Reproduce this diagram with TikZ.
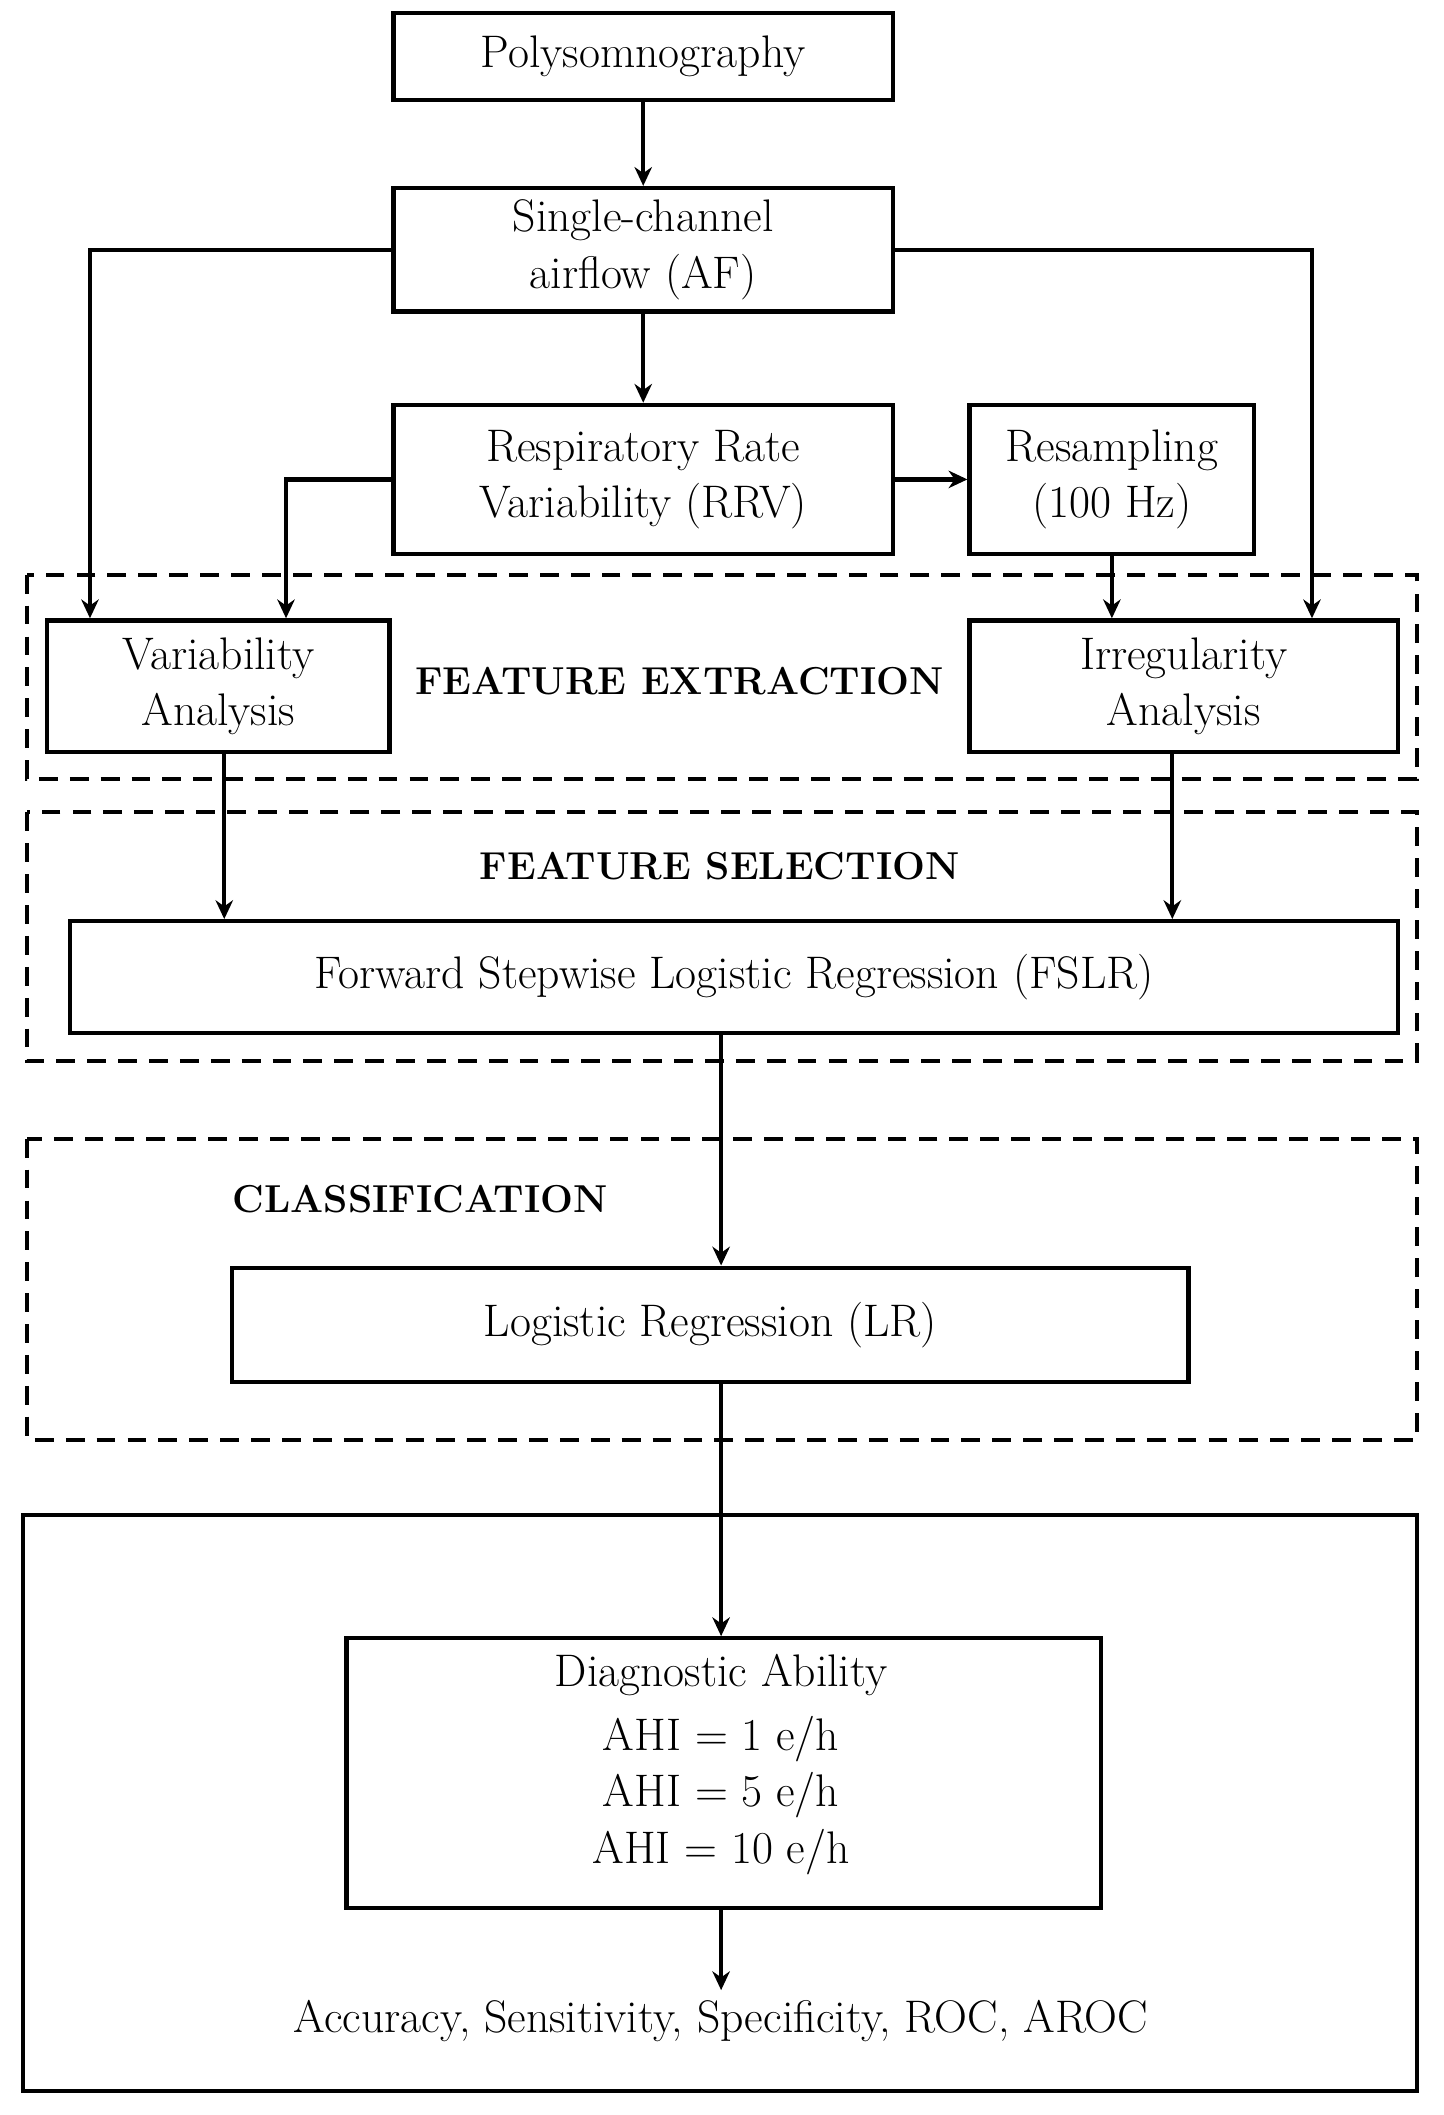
\documentclass[tikz,border=0pt]{standalone}
\usepackage{fontspec}
\usetikzlibrary{arrows.meta}
\begin{document}
\begin{tikzpicture}[x=1pt,y=-1pt,
  box/.style={draw,line width=3.2pt,inner sep=0pt,align=center,font=\fontsize{34}{42}\selectfont},
  grp/.style={draw,line width=3pt,dash pattern=on 14pt off 9pt},
  lab/.style={font=\fontsize{29}{34}\selectfont\bfseries},
  arr/.style={line width=3.2pt,-{Stealth[length=14pt,width=13pt]}}]
\useasboundingbox (0,0) rectangle (1075,1575);
% groups
\draw[grp] (20,428) rectangle (1055,580);
\draw[grp] (20,605) rectangle (1055,790);
\draw[grp] (20,848) rectangle (1055,1072);
\draw[line width=3.2pt] (17,1128) rectangle (1055,1557);
\node[lab] (fe) at (506,507) {FEATURE EXTRACTION};
\node[lab] (fs) at (536,645) {FEATURE SELECTION};
\node[lab] (cl) at (313,893) {CLASSIFICATION};
% boxes
\node[box,minimum width=372pt,minimum height=65pt] (psg) at (479,42) {Polysomnography};
\node[box,minimum width=372pt,minimum height=92pt] (af) at (479,186) {Single-channel\\airflow (AF)};
\node[box,minimum width=372pt,minimum height=111pt] (rrv) at (479,357) {Respiratory Rate\\Variability (RRV)};
\node[box,minimum width=212pt,minimum height=111pt] (rs) at (828,357) {Resampling\\(100 Hz)};
\node[box,minimum width=255pt,minimum height=98pt] (va) at (162.5,511) {Variability\\Analysis};
\node[box,minimum width=319pt,minimum height=98pt] (ia) at (881.5,511) {Irregularity\\Analysis};
\node[box,minimum width=989pt,minimum height=83pt] (fslr) at (546.5,727.5) {Forward Stepwise Logistic Regression (FSLR)};
\node[box,minimum width=712pt,minimum height=85pt] (lr) at (529,986.5) {Logistic Regression (LR)};
\node[box,minimum width=562pt,minimum height=201pt] (da) at (539,1320.5) {};
\node[font=\fontsize{34}{42}\selectfont,align=center,anchor=north] (dat) at (537,1228) {Diagnostic Ability\\[6pt]AHI = 1 e/h\\AHI = 5 e/h\\AHI = 10 e/h};
\node[font=\fontsize{34}{40}\selectfont] (acc) at (537,1505) {Accuracy, Sensitivity, Specificity, ROC, AROC};
% arrows
\draw[arr] (psg.south) -- (af.north);
\draw[arr] (af.south) -- (rrv.north);
\draw[arr] (af.west) -| (va.north -| 67,0);
\draw[arr] (af.east) -| (ia.north -| 977,0);
\draw[arr] (rrv.west) -| (va.north -| 213,0);
\draw[arr] (rrv.east) -- (rs.west);
\draw[arr] (rs.south) -- (rs.south |- ia.north);
\draw[arr] (va.south -| 167,0) -- (fslr.north -| 167,0);
\draw[arr] (ia.south -| 873,0) -- (fslr.north -| 873,0);
\draw[arr] (fslr.south -| 537,0) -- (lr.north -| 537,0);
\draw[arr] (lr.south -| 537,0) -- (da.north -| 537,0);
\draw[arr] (da.south -| 537,0) -- (537,1482);
\end{tikzpicture}
\end{document}
